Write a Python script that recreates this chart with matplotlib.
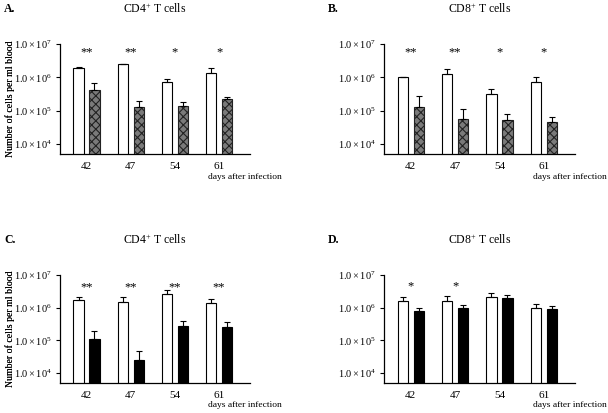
import matplotlib
matplotlib.use("Agg")
import matplotlib.pyplot as plt
import numpy as np

plt.rcParams['font.family'] = ['Liberation Serif', 'DejaVu Serif']
plt.rcParams['mathtext.fontset'] = 'custom'
plt.rcParams['mathtext.rm'] = 'Liberation Serif'
plt.rcParams['mathtext.it'] = 'Liberation Serif:italic'
plt.rcParams['mathtext.bf'] = 'Liberation Serif:bold'
plt.rcParams['hatch.linewidth'] = 0.8

days = ["42", "47", "54", "61"]
ytick_vals = [1e4, 1e5, 1e6, 1e7]
ytick_labels = [r"$1.0\times10^{4}$", r"$1.0\times10^{5}$", r"$1.0\times10^{6}$", r"$1.0\times10^{7}$"]

# Panel A: CD4+ (white vs hatched)
a_white = [1.9e6, 2.45e6, 7.1e5, 1.35e6]
a_white_err = [2.0e6, 2.6e6, 8.9e5, 1.9e6]
a_other = [4.2e5, 1.25e5, 1.4e5, 2.2e5]
a_other_err = [6.9e5, 2.0e5, 1.8e5, 2.6e5]
a_stars = ["**", "**", "*", "*"]

# Panel B: CD8+ (white vs hatched)
b_white = [1.0e6, 1.3e6, 3.2e5, 7.4e5]
b_white_err = [1.05e6, 1.75e6, 4.4e5, 1.05e6]
b_other = [1.3e5, 5.7e4, 5.1e4, 4.6e4]
b_other_err = [2.8e5, 1.15e5, 7.8e4, 6.3e4]
b_stars = ["**", "**", "*", "*"]

# Panel C: CD4+ (white vs black)
c_white = [1.7e6, 1.5e6, 2.6e6, 1.4e6]
c_white_err = [2.1e6, 2.2e6, 3.6e6, 1.8e6]
c_other = [1.1e5, 2.6e4, 2.7e5, 2.6e5]
c_other_err = [2.0e5, 4.9e4, 4.0e5, 3.7e5]
c_stars = ["**", "**", "**", "**"]

# Panel D: CD8+ (white vs black)
d_white = [1.6e6, 1.6e6, 2.2e6, 9.6e5]
d_white_err = [2.2e6, 2.3e6, 2.8e6, 1.26e6]
d_other = [7.9e5, 9.8e5, 2.0e6, 9.4e5]
d_other_err = [9.8e5, 1.23e6, 2.5e6, 1.15e6]
d_stars = ["*", "*", "", ""]

W, H = 608, 413
fig = plt.figure(figsize=(W / 100, H / 100), dpi=100)

panels = [
    ("A.", r"CD4$^{+}$ T cells", a_white, a_white_err, a_other, a_other_err, a_stars, "hatch", (60, 44, 250, 154), 6.76),
    ("B.", r"CD8$^{+}$ T cells", b_white, b_white_err, b_other, b_other_err, b_stars, "hatch", (384, 44, 575, 154), 6.76),
    ("C.", r"CD4$^{+}$ T cells", c_white, c_white_err, c_other, c_other_err, c_stars, "black", (60, 275, 250, 383), 6.62),
    ("D.", r"CD8$^{+}$ T cells", d_white, d_white_err, d_other, d_other_err, d_stars, "black", (384, 275, 575, 383), 6.66),
]

bw = 0.23
off = 0.18
for (lab, title, wv, we, ov, oe, stars, style, (x0, y0, x1, y1), star_y) in panels:
    ax = fig.add_axes([x0 / W, 1 - y1 / H, (x1 - x0) / W, (y1 - y0) / H])
    x = np.arange(len(days))
    wv = np.array(wv); we = np.array(we); ov = np.array(ov); oe = np.array(oe)
    ax.bar(x - off, wv, width=bw, color="white", edgecolor="black", linewidth=0.8,
           yerr=[np.zeros_like(wv), we - wv], capsize=2.5,
           error_kw=dict(elinewidth=0.8, capthick=0.8, ecolor="black"), zorder=2)
    if style == "hatch":
        ax.bar(x + off, ov, width=bw, color="#7a7a7a", edgecolor="#222222", linewidth=0.8,
               hatch="xxxx", yerr=[np.zeros_like(ov), oe - ov], capsize=2.5,
               error_kw=dict(elinewidth=0.8, capthick=0.8, ecolor="black"), zorder=2)
    else:
        ax.bar(x + off, ov, width=bw, color="black", edgecolor="black", linewidth=0.8,
               yerr=[np.zeros_like(ov), oe - ov], capsize=2.5,
               error_kw=dict(elinewidth=0.8, capthick=0.8, ecolor="black"), zorder=2)
    ax.set_yscale("log")
    ax.set_ylim(10 ** 3.7, 1e7)
    ax.set_xlim(-0.6, 3.7)
    ax.set_yticks(ytick_vals)
    ax.set_yticklabels(ytick_labels, fontsize=7.5)
    ax.yaxis.set_minor_locator(matplotlib.ticker.NullLocator())
    ax.set_xticks(x)
    ax.set_xticklabels(days, fontsize=8)
    ax.tick_params(axis="x", length=0, pad=6)
    ax.tick_params(axis="y", length=3, width=0.8, pad=3)
    for s in ["top", "right"]:
        ax.spines[s].set_visible(False)
    for s in ["left", "bottom"]:
        ax.spines[s].set_linewidth(0.9)
    for xi, s in zip(x, stars):
        if s:
            ax.text(xi, 10 ** star_y, s, ha="center", va="center", fontsize=9)
    ax.set_ylabel("Number of cells per ml blood", fontsize=7)
    ax.yaxis.set_label_coords(-(x0 - 15) / (x1 - x0), 0.5)
    ax.text(3 - 0.25, -0.17, "days after infection", transform=ax.get_xaxis_transform(),
            ha="left", va="top", fontsize=6.8)
    ax.set_title(title, fontsize=8.5, pad=(44 - 13) * 0.72)
    fig.text((x0 - 56) / W, 1 - 9 / H - (y0 - 44) / H, lab, fontsize=8.5, fontweight="bold",
             ha="left", va="center")

fig.savefig("out.png", dpi=100)
